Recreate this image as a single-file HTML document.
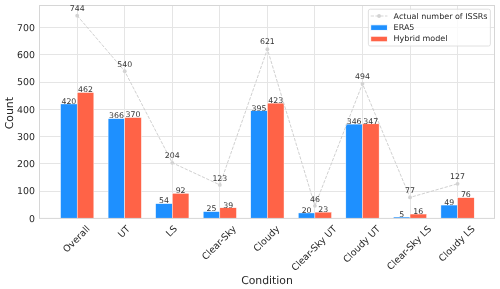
<!DOCTYPE html>
<html lang="en"><head><meta charset="utf-8"><title>ISSR counts by condition</title>
<style>html,body{margin:0;padding:0;background:#fff}svg{display:block;will-change:opacity}text{font-family:"DejaVu Sans","Liberation Sans",sans-serif;fill:#262626;text-rendering:geometricPrecision}.bl text{fill:#363636}</style></head><body>
<svg width="500" height="289" viewBox="0 0 500 289">
<g stroke="#e5e5e5" stroke-width="1" fill="none">
<line x1="39.50" x2="494.50" y1="191.5" y2="191.5"/>
<line x1="39.50" x2="494.50" y1="163.5" y2="163.5"/>
<line x1="39.50" x2="494.50" y1="136.5" y2="136.5"/>
<line x1="39.50" x2="494.50" y1="109.5" y2="109.5"/>
<line x1="39.50" x2="494.50" y1="82.5" y2="82.5"/>
<line x1="39.50" x2="494.50" y1="54.5" y2="54.5"/>
<line x1="39.50" x2="494.50" y1="27.5" y2="27.5"/>
<line x1="77.5" x2="77.5" y1="5.50" y2="218.40"/>
<line x1="124.5" x2="124.5" y1="5.50" y2="218.40"/>
<line x1="172.5" x2="172.5" y1="5.50" y2="218.40"/>
<line x1="219.5" x2="219.5" y1="5.50" y2="218.40"/>
<line x1="267.5" x2="267.5" y1="5.50" y2="218.40"/>
<line x1="314.5" x2="314.5" y1="5.50" y2="218.40"/>
<line x1="362.5" x2="362.5" y1="5.50" y2="218.40"/>
<line x1="410.5" x2="410.5" y1="5.50" y2="218.40"/>
<line x1="457.5" x2="457.5" y1="5.50" y2="218.40"/>
</g>
<g stroke="#fff" stroke-width="0.45">
<rect x="60.56" y="103.94" width="16.64" height="114.46" fill="#1e90ff"/>
<rect x="77.20" y="92.49" width="16.64" height="125.91" fill="#ff6347"/>
<rect x="108.10" y="118.65" width="16.64" height="99.75" fill="#1e90ff"/>
<rect x="124.74" y="117.56" width="16.64" height="100.84" fill="#ff6347"/>
<rect x="155.65" y="203.68" width="16.64" height="14.72" fill="#1e90ff"/>
<rect x="172.29" y="193.33" width="16.64" height="25.07" fill="#ff6347"/>
<rect x="203.19" y="211.59" width="16.64" height="6.81" fill="#1e90ff"/>
<rect x="219.83" y="207.77" width="16.64" height="10.63" fill="#ff6347"/>
<rect x="250.74" y="110.75" width="16.64" height="107.65" fill="#1e90ff"/>
<rect x="267.38" y="103.12" width="16.64" height="115.28" fill="#ff6347"/>
<rect x="298.28" y="212.95" width="16.64" height="5.45" fill="#1e90ff"/>
<rect x="314.92" y="212.13" width="16.64" height="6.27" fill="#ff6347"/>
<rect x="345.83" y="124.10" width="16.64" height="94.30" fill="#1e90ff"/>
<rect x="362.47" y="123.83" width="16.64" height="94.57" fill="#ff6347"/>
<rect x="393.37" y="217.04" width="16.64" height="1.36" fill="#1e90ff"/>
<rect x="410.01" y="214.04" width="16.64" height="4.36" fill="#ff6347"/>
<rect x="440.91" y="205.05" width="16.64" height="13.35" fill="#1e90ff"/>
<rect x="457.56" y="197.69" width="16.64" height="20.71" fill="#ff6347"/>
</g>
<polyline points="77.20,15.64 124.74,71.23 172.29,162.80 219.83,184.88 267.38,49.16 314.92,205.86 362.47,83.77 410.01,197.42 457.56,183.79" fill="none" stroke="#cdcdcd" stroke-width="0.95" stroke-dasharray="3.3 1.45"/>
<circle cx="77.20" cy="15.64" r="1.9" fill="#d3d3d3"/>
<circle cx="124.74" cy="71.23" r="1.9" fill="#d3d3d3"/>
<circle cx="172.29" cy="162.80" r="1.9" fill="#d3d3d3"/>
<circle cx="219.83" cy="184.88" r="1.9" fill="#d3d3d3"/>
<circle cx="267.38" cy="49.16" r="1.9" fill="#d3d3d3"/>
<circle cx="314.92" cy="205.86" r="1.9" fill="#d3d3d3"/>
<circle cx="362.47" cy="83.77" r="1.9" fill="#d3d3d3"/>
<circle cx="410.01" cy="197.42" r="1.9" fill="#d3d3d3"/>
<circle cx="457.56" cy="183.79" r="1.9" fill="#d3d3d3"/>
<rect x="39.50" y="5.50" width="455.00" height="212.90" fill="none" stroke="#d6d6d6" stroke-width="1"/>
<g class="bl" font-size="7.80" text-anchor="middle">
<text x="68.88" y="103.74">420</text>
<text x="85.52" y="92.29">462</text>
<text x="77.20" y="10.69">744</text>
<text x="116.42" y="118.45">366</text>
<text x="133.06" y="117.36">370</text>
<text x="124.74" y="66.50">540</text>
<text x="163.97" y="203.48">54</text>
<text x="180.61" y="193.13">92</text>
<text x="172.29" y="158.42">204</text>
<text x="211.51" y="211.39">25</text>
<text x="228.15" y="207.57">39</text>
<text x="219.83" y="180.58">123</text>
<text x="259.06" y="110.55">395</text>
<text x="275.70" y="102.92">423</text>
<text x="267.38" y="44.34">621</text>
<text x="306.60" y="212.75">20</text>
<text x="323.24" y="211.93">23</text>
<text x="314.92" y="201.65">46</text>
<text x="354.15" y="123.90">346</text>
<text x="370.79" y="123.63">347</text>
<text x="362.47" y="79.08">494</text>
<text x="401.69" y="216.84">5</text>
<text x="418.33" y="213.84">16</text>
<text x="410.01" y="193.16">77</text>
<text x="449.24" y="204.85">49</text>
<text x="465.88" y="197.49">76</text>
<text x="457.56" y="179.49">127</text>
</g>
<g font-size="9.40" text-anchor="end">
<text x="34.90" y="221.68">0</text>
<text x="34.90" y="194.43">100</text>
<text x="34.90" y="167.18">200</text>
<text x="34.90" y="139.92">300</text>
<text x="34.90" y="112.67">400</text>
<text x="34.90" y="85.42">500</text>
<text x="34.90" y="58.16">600</text>
<text x="34.90" y="30.91">700</text>
</g>
<g font-size="9.40">
<text transform="translate(66.75,253.10) rotate(-45)">Overall</text>
<text transform="translate(121.71,238.28) rotate(-45)">UT</text>
<text transform="translate(169.76,237.27) rotate(-45)">LS</text>
<text transform="translate(205.70,260.47) rotate(-45)">Clear-Sky</text>
<text transform="translate(257.35,252.27) rotate(-45)">Cloudy</text>
<text transform="translate(295.27,271.51) rotate(-45)">Clear-Sky UT</text>
<text transform="translate(346.92,263.31) rotate(-45)">Cloudy UT</text>
<text transform="translate(390.86,270.51) rotate(-45)">Clear-Sky LS</text>
<text transform="translate(442.51,262.31) rotate(-45)">Cloudy LS</text>
</g>
<text x="267.00" y="283.5" font-size="10.85" text-anchor="middle">Condition</text>
<text transform="translate(12.6,113.15) rotate(-90)" font-size="10.85" text-anchor="middle">Count</text>
<rect x="368.40" y="9.20" width="122.00" height="36.80" rx="1.8" fill="#fff" fill-opacity="0.8" stroke="#dcdcdc" stroke-width="0.9"/>
<line x1="370.70" x2="387.40" y1="16.00" y2="16.00" stroke="#d3d3d3" stroke-width="0.95" stroke-dasharray="3.3 1.45"/>
<circle cx="379.05" cy="16.00" r="1.9" fill="#d3d3d3"/>
<rect x="370.70" y="24.80" width="16.70" height="5.6" fill="#1e90ff" stroke="#fff" stroke-width="0.9"/>
<rect x="370.70" y="36.20" width="16.70" height="5.6" fill="#ff6347" stroke="#fff" stroke-width="0.9"/>
<g font-size="8.00">
<text x="393.6" y="18.75">Actual number of ISSRs</text>
<text x="393.6" y="29.95">ERA5</text>
<text x="393.6" y="41.35">Hybrid model</text>
</g>
</svg></body></html>
